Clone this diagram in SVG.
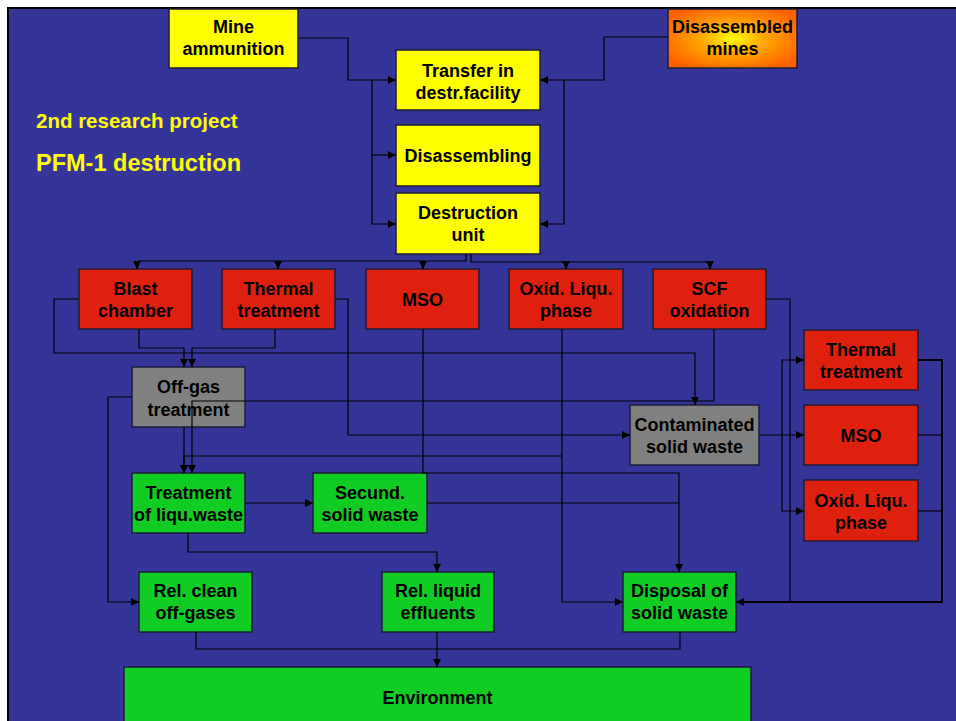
<svg xmlns="http://www.w3.org/2000/svg" width="956" height="721" viewBox="0 0 956 721">
<defs>
<radialGradient id="og" cx="50%" cy="50%" r="60%">
<stop offset="0" stop-color="#FFFF00"/>
<stop offset="0.4" stop-color="#FFA800"/>
<stop offset="1" stop-color="#FF6000"/>
</radialGradient>
<marker id="a" viewBox="0 0 10 10" refX="10" refY="5" markerWidth="9" markerHeight="8" markerUnits="userSpaceOnUse" orient="auto">
<path d="M0,0 L10,5 L0,10 z" fill="#000"/>
</marker>
</defs>
<style>
.b{stroke:#1c1c3a;stroke-width:1.5}
.y{fill:#FFFF00}
.r{fill:#E0200F}
.g{fill:#11CC22}
.k{fill:#808080}
.t{font-family:"Liberation Sans",Arial,sans-serif;font-weight:bold;font-size:18px;text-anchor:middle;fill:#000}
.h{font-family:"Liberation Sans",Arial,sans-serif;font-weight:bold;fill:#FFFF00}
#conn path{fill:none;stroke:#000;stroke-width:1.2}
#conn .ar{marker-end:url(#a)}
</style>
<rect x="0" y="0" width="956" height="721" fill="#fff"/>
<rect x="8" y="8" width="960" height="730" fill="#353599" stroke="#000" stroke-width="2"/>
<text class="h" x="36" y="128" font-size="20.5">2nd research project</text>
<text class="h" x="36" y="171" font-size="23.5">PFM-1 destruction</text>

<g id="mine-ammunition"><rect class="b y" x="169" y="9" width="129" height="59"/><text class="t" x="233.5" y="32.5">Mine</text><text class="t" x="233.5" y="55">ammunition</text></g>
<g id="disassembled-mines"><rect class="b" fill="url(#og)" x="668" y="9" width="129" height="59"/><text class="t" x="732.5" y="32.5">Disassembled</text><text class="t" x="732.5" y="55">mines</text></g>
<g id="transfer"><rect class="b y" x="396" y="50" width="144" height="60"/><text class="t" x="468" y="77">Transfer in</text><text class="t" x="468" y="99">destr.facility</text></g>
<g id="disassembling"><rect class="b y" x="396" y="125" width="144" height="61"/><text class="t" x="468" y="162">Disassembling</text></g>
<g id="destruction-unit"><rect class="b y" x="396" y="193" width="144" height="61"/><text class="t" x="468" y="219">Destruction</text><text class="t" x="468" y="241">unit</text></g>

<g id="blast-chamber"><rect class="b r" x="79" y="269" width="113" height="60"/><text class="t" x="135.5" y="295">Blast</text><text class="t" x="135.5" y="317">chamber</text></g>
<g id="thermal-treatment-1"><rect class="b r" x="222" y="269" width="113" height="60"/><text class="t" x="278.5" y="295">Thermal</text><text class="t" x="278.5" y="317">treatment</text></g>
<g id="mso-1"><rect class="b r" x="366" y="269" width="113" height="60"/><text class="t" x="422.5" y="305.5">MSO</text></g>
<g id="oxid-1"><rect class="b r" x="509" y="269" width="114" height="60"/><text class="t" x="566" y="295">Oxid. Liqu.</text><text class="t" x="566" y="317">phase</text></g>
<g id="scf"><rect class="b r" x="653" y="269" width="113" height="60"/><text class="t" x="709.5" y="295">SCF</text><text class="t" x="709.5" y="317">oxidation</text></g>

<g id="off-gas"><rect class="b k" x="132" y="367" width="113" height="60"/><text class="t" x="188.5" y="393">Off-gas</text><text class="t" x="188.5" y="415.5">treatment</text></g>
<g id="contaminated"><rect class="b k" x="630" y="405" width="129" height="60"/><text class="t" x="694.5" y="431">Contaminated</text><text class="t" x="694.5" y="453">solid waste</text></g>

<g id="thermal-treatment-2"><rect class="b r" x="804" y="330" width="114" height="60"/><text class="t" x="861" y="356">Thermal</text><text class="t" x="861" y="378">treatment</text></g>
<g id="mso-2"><rect class="b r" x="804" y="405" width="114" height="60"/><text class="t" x="861" y="441.5">MSO</text></g>
<g id="oxid-2"><rect class="b r" x="804" y="480" width="114" height="61"/><text class="t" x="861" y="507">Oxid. Liqu.</text><text class="t" x="861" y="529">phase</text></g>

<g id="treatment-liqu"><rect class="b g" x="132" y="473" width="113" height="60"/><text class="t" x="188.5" y="499">Treatment</text><text class="t" x="188.5" y="521">of liqu.waste</text></g>
<g id="secund"><rect class="b g" x="313" y="473" width="114" height="60"/><text class="t" x="370" y="499">Secund.</text><text class="t" x="370" y="521">solid waste</text></g>
<g id="rel-clean"><rect class="b g" x="139" y="572" width="113" height="60"/><text class="t" x="195.5" y="597">Rel. clean</text><text class="t" x="195.5" y="619">off-gases</text></g>
<g id="rel-liquid"><rect class="b g" x="382" y="572" width="112" height="60"/><text class="t" x="438" y="597">Rel. liquid</text><text class="t" x="438" y="619">effluents</text></g>
<g id="disposal"><rect class="b g" x="623" y="572" width="113" height="60"/><text class="t" x="679.5" y="597">Disposal of</text><text class="t" x="679.5" y="619">solid waste</text></g>
<g id="environment"><rect class="b g" x="124" y="667" width="627" height="70"/><text class="t" x="437.5" y="704">Environment</text></g>

<g id="conn">
<path class="ar" d="M298,38 H348 V80 H396"/>
<path class="ar" d="M372,80 V224 H396"/>
<path class="ar" d="M372,155 H396"/>
<path class="ar" d="M668,37 H604 V80 H540"/>
<path class="ar" d="M564,80 V224 H540"/>
<path d="M466,254 V261 H137"/>
<path d="M471,254 V262 H710"/>
<path class="ar" d="M137,261 V269"/>
<path class="ar" d="M278,261 V269"/>
<path class="ar" d="M423,261 V269"/>
<path class="ar" d="M566,262 V269"/>
<path class="ar" d="M710,262 V269"/>
<path class="ar" d="M79,299 H54 V353 H695 V405"/>
<path class="ar" d="M139,329 V348 H184 V367"/>
<path class="ar" d="M275,329 V348 H192 V367"/>
<path class="ar" d="M335,299 H348 V435 H630"/>
<path class="ar" d="M423,329 V473 H679 V572"/>
<path class="ar" d="M562,329 V602 H623"/>
<path class="ar" d="M562,456 H184 V473"/>
<path class="ar" d="M184,427 V473"/>
<path class="ar" d="M714,329 V401 H192 V473"/>
<path d="M766,299 H790 V602"/>
<path class="ar" d="M918,360 H942 V602 H736" style="stroke-width:2"/>
<path d="M918,435 H942"/>
<path d="M918,511 H942"/>
<path class="ar" d="M759,435 H804"/>
<path class="ar" d="M782,435 V360 H804"/>
<path class="ar" d="M782,435 V511 H804"/>
<path class="ar" d="M132,397 H108 V602 H139"/>
<path class="ar" d="M245,503 H313"/>
<path d="M427,503 H679"/>
<path class="ar" d="M188,533 V552 H437 V572"/>
<path d="M196,632 V649 H437"/>
<path d="M680,632 V649 H437"/>
<path class="ar" d="M437,632 V667"/>
</g>
</svg>
